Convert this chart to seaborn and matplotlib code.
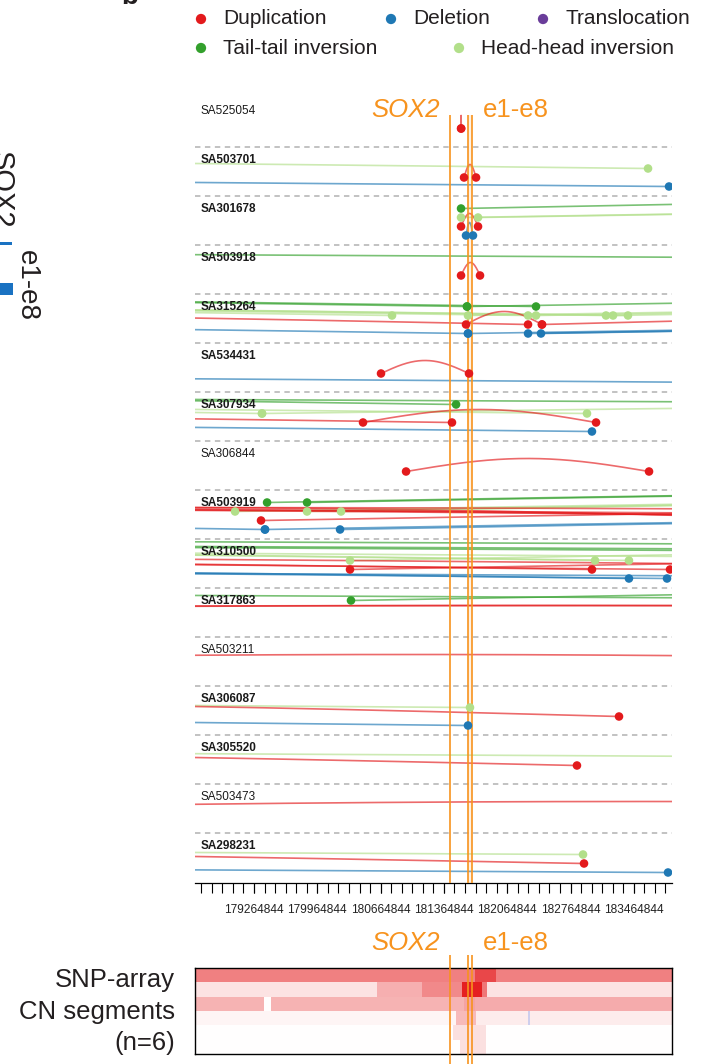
import numpy as np
import pandas as pd
import matplotlib.pyplot as plt
import seaborn as sns

sns.set_theme(style='ticks')
plt.rcParams['font.family'] = ['Liberation Sans', 'DejaVu Sans']

# SV classes and colours
sv_codes = ['DUP', 'DEL', 'TRA', 'TT', 'HH']
sv_names = ['Duplication', 'Deletion', 'Translocation', 'Tail-tail inversion', 'Head-head inversion']
sv_colors = ['#e31a1c', '#1f78b4', '#6a3d9a', '#33a02c', '#b2df8a']

samples = ['SA525054', 'SA503701', 'SA301678', 'SA503918', 'SA315264', 'SA534431',
           'SA307934', 'SA306844', 'SA503919', 'SA310500', 'SA317863', 'SA503211',
           'SA306087', 'SA305520', 'SA503473', 'SA298231']

# structural variants (breakpoints in Mb, chr3); ends outside the window are far partners
sv_sample = (['SA525054'] +
             ['SA503701'] * 3 +
             ['SA301678'] * 5 +
             ['SA503918'] * 2 +
             ['SA315264'] * 17 +
             ['SA534431'] * 2 +
             ['SA307934'] * 8 +
             ['SA306844'] +
             ['SA503919'] * 14 +
             ['SA310500'] * 14 +
             ['SA317863'] * 4 +
             ['SA503211'] +
             ['SA306087'] * 3 +
             ['SA305520'] * 2 +
             ['SA503473'] +
             ['SA298231'] * 3)
sv_type = (['DUP'] +
           ['HH', 'DUP', 'DEL'] +
           ['TT', 'HH', 'HH', 'DUP', 'DEL'] +
           ['TT', 'DUP'] +
           ['TT', 'TT', 'TT', 'HH', 'HH', 'HH', 'HH', 'HH', 'HH', 'HH',
            'DUP', 'DUP', 'DUP', 'DEL', 'DEL', 'DEL', 'DEL'] +
           ['DUP', 'DEL'] +
           ['TT', 'TT', 'HH', 'HH', 'HH', 'DUP', 'DUP', 'DEL'] +
           ['DUP'] +
           ['TT', 'TT', 'HH', 'HH', 'HH', 'DUP', 'DUP', 'DUP', 'DUP', 'DUP', 'DUP',
            'DEL', 'DEL', 'DEL'] +
           ['TT', 'TT', 'TT', 'HH', 'HH', 'HH', 'HH', 'DUP', 'DUP', 'DUP', 'DUP',
            'DEL', 'DEL', 'DEL'] +
           ['TT', 'TT', 'DUP', 'DUP'] +
           ['DUP'] +
           ['HH', 'DUP', 'DEL'] +
           ['HH', 'DUP'] +
           ['DUP'] +
           ['HH', 'DUP', 'DEL'])
sv_bp1 = ([181.554] +
          [143.8, 181.587, 131.6] +
          [181.554, 181.554, 181.742, 181.554, 181.609] +
          [100.0, 181.554] +
          [150.0, 181.620, 150.0, 150.0, 181.631, 150.0, 182.383, 150.0, 183.235, 150.0,
           160.0, 181.609, 182.449, 150.0, 181.631, 182.295, 182.438] +
          [180.669, 120.0] +
          [150.0, 100.0, 150.0, 179.353, 140.0, 150.0, 180.470, 140.0] +
          [180.946] +
          [179.409, 179.851, 179.055, 179.851, 180.227, 179.342, 150.0, 160.0, 140.0, 170.0, 155.0,
           150.0, 179.386, 180.216] +
          [100.0, 120.0, 110.0, 180.326, 150.0, 150.0, 130.0, 180.326, 150.0, 140.0, 150.0,
           150.0, 140.0, 100.0] +
          [180.337, 100.0, 165.0, 160.0] +
          [170.0] +
          [120.0, 166.5, 140.7] +
          [100.0, 162.8] +
          [172.0] +
          [96.0, 159.2, 102.8])
sv_bp2 = ([181.556] +
          [183.622, 181.720, 183.854] +
          [204.5, 209.0, 210.0, 181.742, 181.686] +
          [184.5, 181.764] +
          [181.620, 210.0, 182.383, 180.791, 210.0, 182.295, 210.0, 183.157, 210.0, 183.400,
           182.295, 182.449, 200.0, 181.631, 210.0, 210.0, 210.0] +
          [181.642, 184.5] +
          [181.499, 190.0, 179.353, 215.0, 182.947, 181.454, 183.047, 183.002] +
          [183.633] +
          [205.0, 205.0, 205.0, 205.0, 205.0, 205.0, 190.0, 188.0, 195.0, 186.0, 200.0,
           179.386, 205.0, 205.0] +
          [190.0, 200.0, 186.0, 205.0, 183.036, 183.411, 190.0, 205.0, 183.002, 183.865, 190.0,
           183.411, 183.832, 190.0] +
          [205.0, 190.0, 200.0, 205.0] +
          [192.0] +
          [181.653, 183.301, 181.631] +
          [184.5, 182.836] +
          [195.0] +
          [182.903, 182.914, 183.843])

# gene annotation (Mb)
sox2_pos = 181.430
enh_start, enh_end = 181.631, 181.675
view_start, view_end = 178.612, 183.887
tick_pos = [179.264844, 179.964844, 180.664844, 181.364844, 182.064844, 182.764844, 183.464844]
tick_labels = ['179264844', '179964844', '180664844', '181364844', '182064844', '182764844', '183464844']

# SNP-array copy number segments (row, start Mb, end Mb, log-ratio-like value)
cn_row = [0, 0, 1, 1, 1, 1, 1, 1, 2, 2, 2, 2, 3, 3, 3, 3, 3, 4, 5]
cn_start = [178.612, 181.709, 178.612, 180.614, 181.112, 181.554, 181.786, 181.841,
            178.612, 179.442, 181.587, 181.709, 178.612, 181.499, 181.720, 182.295, 182.317,
            181.465, 181.532]
cn_end = [183.887, 181.941, 180.614, 181.112, 181.554, 181.786, 181.841, 183.887,
          179.364, 181.587, 181.709, 183.887, 181.499, 181.720, 182.295, 182.317, 183.887,
          181.830, 181.830]
cn_value = [0.55, 0.8, 0.12, 0.35, 0.51, 0.97, 0.6, 0.12,
            0.33, 0.33, 0.4, 0.36, 0.04, 0.3, 0.08, -0.25, 0.08,
            0.14, 0.14]

orange = '#F7931E'
palette = dict(zip(sv_codes, sv_colors))
W, H = 702, 1064
fig = plt.figure(figsize=(W / 100, H / 100), dpi=100)

# ---- overlay in pixel coordinates for legend and side labels
ax_fig = fig.add_axes([0, 0, 1, 1])
ax_fig.set_xlim(0, W)
ax_fig.set_ylim(H, 0)
ax_fig.axis('off')

leg_df = pd.DataFrame({'code': sv_codes, 'name': sv_names,
                       'x': [201, 391, 543, 201, 459], 'y': [19, 19, 19, 48, 48]})
sns.scatterplot(data=leg_df, x='x', y='y', hue='code', palette=palette, s=55,
                edgecolor='none', legend=False, ax=ax_fig)
for _, r in leg_df.iterrows():
    ax_fig.text(r['x'] + 22, r['y'], r['name'], fontsize=15, color='#231f20',
                va='center', ha='left')

# partial labels from the neighbouring panel (cut at the figure edge as in the source)
ax_fig.text(121, 4, 'b', fontsize=20, fontweight='bold', va='baseline', ha='left', color='#231f20')
ax_fig.text(1, 190, 'SOX2', rotation=-90, fontsize=21, ha='center', va='center', color='#231f20')
ax_fig.text(27, 285, 'e1-e8', rotation=-90, fontsize=20, ha='center', va='center', color='#231f20')
ax_fig.add_patch(plt.Rectangle((0, 242), 12, 2.5, color='#1a72c2', lw=0))
ax_fig.add_patch(plt.Rectangle((0, 283), 13, 12, color='#1a72c2', lw=0))

for lab, base in zip(['SNP-array', 'CN segments', '(n=6)'], [987, 1019, 1050]):
    ax_fig.text(175, base, lab, fontsize=18.5, ha='right', va='baseline', color='#231f20')

# ---- main SV track panel
ax = fig.add_axes([195 / W, 1 - 883 / H, 477 / W, 793 / H])
row_px = 49.0
lane = {'TT': 12.5 / row_px, 'HH': 21.5 / row_px, 'DUP': 30.5 / row_px,
        'DEL': 39.5 / row_px, 'TRA': 45 / row_px}
arc_h = 13 / row_px
row_of = {s: i for i, s in enumerate(samples)}

pts = []
for s, t, p1, p2 in zip(sv_sample, sv_type, sv_bp1, sv_bp2):
    a, b = min(p1, p2), max(p1, p2)
    lo, hi = max(a, view_start - 0.05), min(b, view_end + 0.05)
    xs = np.linspace(lo, hi, 400)
    ys = row_of[s] + lane[t] - arc_h * np.sin(np.pi * (xs - a) / (b - a))
    ax.plot(xs, ys, color=palette[t], lw=1.2, alpha=0.65, solid_capstyle='butt', zorder=2)
    for p in (p1, p2):
        if view_start <= p <= view_end:
            pts.append({'x': p, 'y': row_of[s] + lane[t], 'code': t})

pts_df = pd.DataFrame(pts)
sns.scatterplot(data=pts_df, x='x', y='y', hue='code', palette=palette, s=38,
                edgecolor='none', legend=False, ax=ax, zorder=5)

ax.hlines(np.arange(1, len(samples)), view_start, view_end, colors='#bdbdbd',
          linestyles=(0, (3, 2.5)), lw=1.3, zorder=1)

counts = pd.Series(sv_sample).value_counts()
for s in samples:
    ax.text(0.011, row_of[s] + 13 / row_px, s, transform=ax.get_yaxis_transform(),
            fontsize=8.5, ha='left', va='center', color='#1a1a1a',
            fontweight='bold' if counts[s] > 1 else 'normal', zorder=3)

ytop = (115 - 98) / row_px
ybot = (883 - 98) / row_px
ax.axvspan(enh_start, enh_end, ymin=0, ymax=(883 - 115) / 793, color=orange, alpha=0.12, lw=0, zorder=3)
ax.vlines([sox2_pos, enh_start, enh_end], ytop, ybot + 0.5, colors=orange, lw=1.2, zorder=4)
ax.annotate('SOX2', xy=(sox2_pos, (110 - 98) / row_px), xytext=(-7, 0), textcoords='offset points',
            ha='right', va='center', fontsize=18.5, style='italic', color=orange)
ax.annotate('e1-e8', xy=(enh_end, (110 - 98) / row_px), xytext=(8, 0), textcoords='offset points',
            ha='left', va='center', fontsize=18.5, color=orange)

ax.set_xlim(view_start, view_end)
ax.set_ylim(ybot, (90 - 98) / row_px)
small_ticks = np.arange(tick_pos[0] - 5 * 0.7 / 6, view_end, 0.7 / 6)
ax.set_xticks(tick_pos)
ax.set_xticklabels(tick_labels)
ax.set_xticks(small_ticks, minor=True)
ax.xaxis.remove_overlapping_locs = False
ax.tick_params(axis='x', which='both', direction='out', length=7, width=0.8, color='black')
ax.tick_params(axis='x', which='major', pad=8, labelsize=8.6, labelcolor='#222222')
ax.set_yticks([])
ax.set_xlabel('')
ax.set_ylabel('')
for side in ['top', 'left', 'right']:
    ax.spines[side].set_visible(False)
ax.spines['bottom'].set_linewidth(0.9)
ax.spines['bottom'].set_color('black')

# ---- SNP-array CN heatmap
bins = np.arange(view_start, view_end, 0.01)
cn = np.zeros((6, len(bins)))
for r, s0, e0, v in zip(cn_row, cn_start, cn_end, cn_value):
    cn[r, (bins >= s0) & (bins < e0)] = v

ax_cn = fig.add_axes([195 / W, 1 - 1054 / H, 477 / W, 86 / H])
cmap = sns.blend_palette(['#3a3ab8', '#ffffff', '#e41a1c'], as_cmap=True)
sns.heatmap(cn, cmap=cmap, vmin=-1, vmax=1, cbar=False, xticklabels=False,
            yticklabels=False, ax=ax_cn)
for sp in ax_cn.spines.values():
    sp.set_visible(True)
    sp.set_color('black')
    sp.set_linewidth(1.0)

ax_ov = fig.add_axes([195 / W, 0, 477 / W, (H - 925) / H])
ax_ov.set_xlim(view_start, view_end)
ax_ov.set_ylim(H, 925)
ax_ov.axis('off')
ax_ov.vlines([sox2_pos, enh_start, enh_end], 955, H, colors=orange, lw=1.2)
ax_ov.annotate('SOX2', xy=(sox2_pos, 943), xytext=(-7, 0), textcoords='offset points',
               ha='right', va='center', fontsize=18.5, style='italic', color=orange)
ax_ov.annotate('e1-e8', xy=(enh_end, 943), xytext=(8, 0), textcoords='offset points',
               ha='left', va='center', fontsize=18.5, color=orange)

fig.savefig('out.png', dpi=100)
